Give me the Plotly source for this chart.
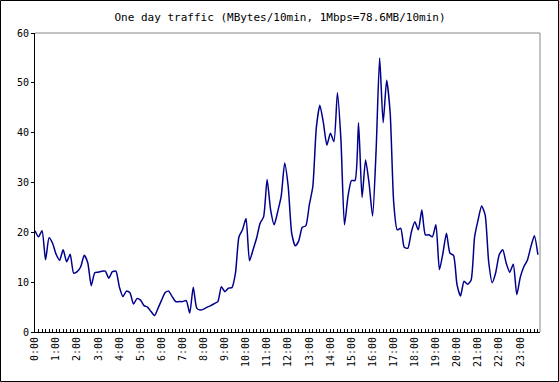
import plotly.graph_objects as go

# 10-minute slots over one day (144 slots)
traffic = [
    20.3, 19.1, 20.3, 14.5, 18.9, 17.8,   # 0:00
    15.6, 14.4, 16.5, 14.1, 15.6, 11.8,   # 1:00
    12.1, 13.1, 15.4, 13.9, 9.3, 11.9,    # 2:00
    12.0, 12.2, 12.2, 10.8, 12.1, 12.2,   # 3:00
    9.0, 7.1, 8.2, 7.9, 5.6, 6.7,         # 4:00
    6.4, 5.3, 5.0, 4.1, 3.3, 4.8,         # 5:00
    6.4, 7.9, 8.2, 7.1, 6.1, 6.1,         # 6:00
    6.1, 6.3, 3.8, 9.0, 4.8, 4.4,         # 7:00
    4.6, 5.0, 5.3, 5.7, 6.1, 9.1,         # 8:00
    8.1, 8.8, 8.9, 11.8, 19.1, 20.5,      # 9:00
    22.8, 14.3, 16.5, 18.8, 21.8, 23.1,   # 10:00
    30.6, 24.5, 21.5, 24.1, 27.2, 33.9,   # 11:00
    29.2, 19.8, 17.3, 18.3, 21.0, 21.3,   # 12:00
    25.5, 29.2, 41.0, 45.5, 42.0, 37.5,   # 13:00
    39.9, 38.2, 48.0, 38.5, 21.5, 27.2,   # 14:00
    30.4, 30.4, 42.0, 27.0, 34.5, 29.8,   # 15:00
    23.3, 36.5, 55.0, 42.0, 50.5, 43.9,   # 16:00
    26.0, 20.5, 20.8, 17.0, 16.8, 20.0,   # 17:00
    22.1, 20.5, 24.5, 19.5, 19.5, 19.1,   # 18:00
    21.5, 12.5, 15.8, 19.8, 15.8, 15.4,   # 19:00
    9.5, 7.2, 10.2, 9.6, 10.4, 19.1,      # 20:00
    22.5, 25.3, 23.5, 14.1, 9.9, 11.9,    # 21:00
    15.5, 16.5, 13.8, 12.0, 13.6, 7.5,    # 22:00
    11.0, 13.1, 14.4, 17.1, 19.3, 15.5,   # 23:00
]
slots = list(range(len(traffic)))
hour_ticks = list(range(0, 144, 6))
hour_labels = [f"{h}:00" for h in range(24)]
y_ticks = [0, 10, 20, 30, 40, 50, 60]

W, H = 559, 382
ML, MR, MT, MB = 35, 19, 33, 50
PW, PH = W - ML - MR, H - MT - MB

fig = go.Figure()
fig.add_trace(go.Scatter(
    x=slots, y=traffic, mode="lines",
    line=dict(color="#00008c", width=1.5, shape="spline", smoothing=0.6),
    hoverinfo="skip", showlegend=False,
))

font = "DejaVu Sans Mono, monospace"
fig.update_layout(
    width=W, height=H,
    margin=dict(l=ML, r=MR, t=MT, b=MB, pad=0, autoexpand=False),
    paper_bgcolor="white", plot_bgcolor="white",
    title=dict(text="One day traffic (MBytes/10min, 1Mbps=78.6MB/10min)",
               x=280 / W, xanchor="center", y=1 - 17 / H, yanchor="middle",
               automargin=False,
               font=dict(family=font, size=11, color="black")),
    font=dict(family=font, size=10, color="black"),
    xaxis=dict(range=[0, 143.6], tickvals=hour_ticks, ticktext=hour_labels,
               tickangle=-90, ticks="inside", ticklen=3, tickcolor="black",
               showline=True, linecolor="black", linewidth=1,
               showgrid=False, zeroline=False, automargin=False,
               tickfont=dict(family=font, size=10, color="black"),
               minor=dict(dtick=1, tick0=0, ticks="inside", ticklen=3,
                          tickcolor="black", showgrid=False)),
    yaxis=dict(range=[0, 60], tickvals=y_ticks, ticks="outside", ticklen=3,
               tickcolor="black", showline=True, linecolor="black", linewidth=1,
               showgrid=False, zeroline=False, automargin=False,
               tickfont=dict(family=font, size=10, color="black")),
    shapes=[
        dict(type="line", xref="paper", yref="paper", x0=0, x1=1, y0=1, y1=1,
             line=dict(color="#888888", width=1)),
        dict(type="line", xref="paper", yref="paper", x0=1, x1=1, y0=0, y1=1,
             line=dict(color="#888888", width=1)),
        dict(type="rect", xref="paper", yref="paper",
             x0=(0.5 - ML) / PW, x1=(W - 0.5 - ML) / PW,
             y0=-(MB - 0.5) / PH, y1=1 + (MT - 0.5) / PH,
             line=dict(color="black", width=1)),
    ],
)

fig.write_html("out.html",
               config={"displayModeBar": False, "staticPlot": True},
               post_script="document.body.style.margin='0';document.body.style.overflow='hidden';")
